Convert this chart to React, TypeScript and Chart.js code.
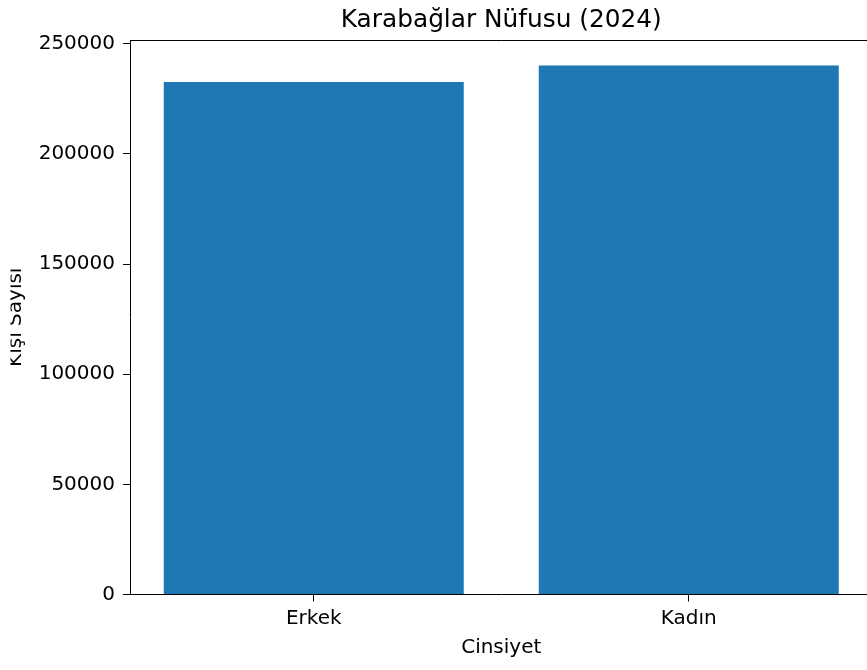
import React, { useEffect, useRef } from 'react';
import { Chart, registerables } from 'chart.js';

Chart.register(...registerables);

const categories = ['Erkek', 'Kadın'];
const populationValues = [232600, 240100];
const yTickValues = [0, 50000, 100000, 150000, 200000, 250000];
const titleText = 'Karabağlar Nüfusu (2024)';
const xAxisTitle = 'Cinsiyet';
const yAxisTitle = 'Kişi Sayısı';

const framePlugin = {
  id: 'frame',
  afterDraw(chart: any) {
    const { ctx, chartArea: a } = chart;
    ctx.save();
    ctx.strokeStyle = '#000';
    ctx.lineWidth = 1;
    ctx.beginPath();
    const top = Math.round(a.top) + 0.5;
    const right = Math.round(a.right) - 0.5;
    ctx.moveTo(a.left, top);
    ctx.lineTo(right, top);
    ctx.lineTo(right, a.bottom);
    ctx.stroke();
    // emulate the cropped left edge of the original figure
    ctx.fillStyle = '#fff';
    ctx.fillRect(0, a.top, 10.5, a.bottom - a.top);
    ctx.restore();
  },
};

export default function App() {
  const ref = useRef<HTMLCanvasElement | null>(null);

  useEffect(() => {
    if (!ref.current) return;
    Chart.defaults.font.family = "'DejaVu Sans', sans-serif";
    Chart.defaults.color = '#000';
    const chart = new Chart(ref.current, {
      type: 'bar',
      data: {
        datasets: [
          {
            data: categories.map((c, i) => ({ x: i, y: populationValues[i] })),
            backgroundColor: '#1f77b4',
            borderWidth: 0,
            barPercentage: 0.8,
            categoryPercentage: 1,
            xAxisID: 'x',
            yAxisID: 'y',
          },
        ],
      },
      plugins: [framePlugin],
      options: {
        animation: false,
        responsive: true,
        maintainAspectRatio: false,
        layout: { padding: { top: 0, left: 0, right: 7.5, bottom: 0 } },
        plugins: {
          legend: { display: false },
          tooltip: { enabled: false },
          title: { display: false },
        },
        scales: {
          xTop: {
            type: 'linear',
            position: 'top',
            min: -0.49,
            max: 1.49,
            afterFit: (s: any) => {
              s.height = 40;
            },
            ticks: { display: false },
            grid: { display: false, drawTicks: false },
            border: { display: false },
            title: {
              display: true,
              text: titleText,
              color: '#000',
              font: { size: 24.8 },
              padding: { top: 5.4, bottom: 0 },
            },
          },
          x: {
            type: 'linear',
            position: 'bottom',
            offset: false,
            min: -0.49,
            max: 1.49,
            afterBuildTicks: (s: any) => {
              s.ticks = categories.map((_, i) => ({ value: i }));
            },
            afterFit: (s: any) => {
              s.height = 75.5;
            },
            ticks: {
              callback: (v: any) => categories[v] ?? '',
              font: { size: 20 },
              color: '#000',
              padding: 5.5,
              maxRotation: 0,
              autoSkip: false,
            },
            grid: { offset: false, drawOnChartArea: false, drawTicks: true, tickLength: 7, color: '#000' },
            border: { display: true, color: '#000', width: 1 },
            title: {
              display: true,
              text: xAxisTitle,
              color: '#000',
              font: { size: 20 },
              padding: { top: 0, bottom: 10.5 },
            },
          },
          y: {
            min: 0,
            max: 251700,
            afterBuildTicks: (s: any) => {
              s.ticks = yTickValues.map((v) => ({ value: v }));
            },
            afterFit: (s: any) => {
              s.width = 130;
            },
            ticks: {
              font: { size: 20 },
              color: '#000',
              padding: 8,
              includeBounds: false,
              callback: (v: any) => String(v),
            },
            grid: { drawOnChartArea: false, drawTicks: true, tickLength: 7, color: '#000' },
            border: { display: true, color: '#000', width: 1 },
            title: {
              display: true,
              text: yAxisTitle,
              color: '#000',
              font: { size: 20 },
              padding: { top: 4.1, bottom: 0 },
            },
          },
        },
      },
    } as any);
    return () => chart.destroy();
  }, []);

  return (
    <div style={{ position: 'fixed', left: 0, top: 0, width: 867, height: 670, overflow: 'hidden', background: '#fff' }}>
      <div style={{ position: 'relative', width: 880, height: 670 }}>
        <canvas ref={ref} style={{ display: 'block' }} />
      </div>
    </div>
  );
}
